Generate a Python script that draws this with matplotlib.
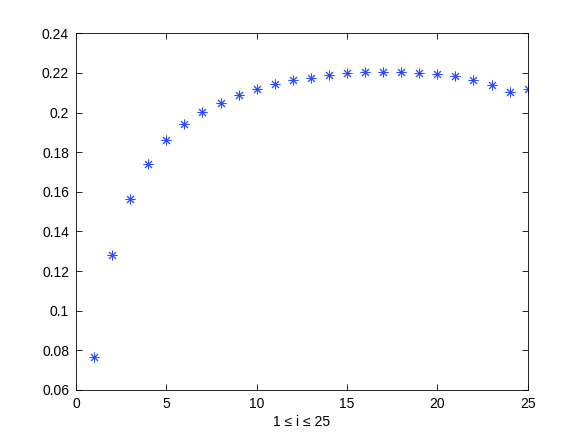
import matplotlib.pyplot as plt

plt.rcParams['font.family'] = ['Liberation Sans', 'DejaVu Sans']

# 데이터
i_vals = list(range(1, 26))
y_vals = [0.0764, 0.1280, 0.1564, 0.1741, 0.1860, 0.1943, 0.2003, 0.2050,
          0.2089, 0.2118, 0.2144, 0.2162, 0.2176, 0.2188, 0.2199, 0.2203,
          0.2207, 0.2207, 0.2201, 0.2196, 0.2184, 0.2166, 0.2137, 0.2104,
          0.2118]
x_ticks = [0, 5, 10, 15, 20, 25]
y_ticks = [0.06, 0.08, 0.1, 0.12, 0.14, 0.16, 0.18, 0.2, 0.22, 0.24]
y_tick_labels = ['0.06', '0.08', '0.1', '0.12', '0.14', '0.16', '0.18', '0.2', '0.22', '0.24']

fig = plt.figure(figsize=(5.82, 4.38), dpi=100)
ax = fig.add_axes([0.1306, 0.1096, 0.776, 0.8144])

ax.plot(i_vals, y_vals, linestyle='none', marker=(8, 2, 0), markersize=7,
        markeredgewidth=0.7, color='#2a4cff')

ax.set_xlim(0, 25)
ax.set_ylim(0.06, 0.24)
ax.set_xticks(x_ticks)
ax.set_yticks(y_ticks)
ax.set_yticklabels(y_tick_labels)
ax.tick_params(direction='in', top=True, right=True, length=4, width=0.6,
               labelsize=10, pad=5)
for s in ax.spines.values():
    s.set_linewidth(0.6)
ax.set_xlabel('1 ≤ i ≤ 25', fontsize=10, labelpad=3)

fig.savefig('out.png', dpi=100)
